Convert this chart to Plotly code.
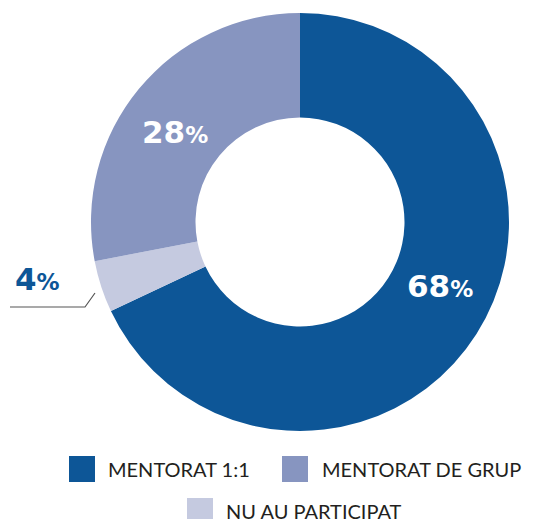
import math
import plotly.graph_objects as go

W, H = 533, 519

labels = ["MENTORAT 1:1", "NU AU PARTICIPAT", "MENTORAT DE GRUP"]
values = [68, 4, 28]
colors = ["#0D5697", "#C5CAE0", "#8795C0"]

# legend order as in the picture
legend_order = [0, 2, 1]

CX, CY, R_OUT = 300, 222, 209
NUM_FONT = "DejaVu Sans"

def px(x, y):
    return x / W, 1 - y / H

def pct_text(v):
    return "<b>%d</b><span style='font-size:23px'><b>%%</b></span>" % v

fig = go.Figure()
fig.add_trace(go.Pie(
    labels=labels, values=values,
    marker=dict(colors=colors, line=dict(width=0)),
    hole=0.5, sort=False, direction="clockwise", rotation=0,
    textinfo="none",
    hoverinfo="skip",
    showlegend=False,
    domain=dict(x=[(CX - R_OUT) / W, (CX + R_OUT) / W],
                y=[1 - (CY + R_OUT) / H, 1 - (CY - R_OUT) / H]),
))

# slice labels: inside ones placed at the ring's mid radius
total = sum(values)
shift = [-8, 0, -4]
start = 0
for i, v in enumerate(values):
    mid = (start + v / 2) / total * 360 + shift[i]
    start += v
    if v < 10:
        continue
    r = 154
    x = CX + r * math.sin(math.radians(mid))
    y = CY - r * math.cos(math.radians(mid))
    ax, ay = px(x, y)
    fig.add_annotation(x=ax, y=ay, xref="paper", yref="paper", showarrow=False,
                       xanchor="center", yanchor="middle",
                       text=pct_text(v),
                       font=dict(family=NUM_FONT, size=31, color="white"))

# small slice label outside, with leader line
x0, y0 = px(37, 279)
fig.add_annotation(x=x0, y=y0, xref="paper", yref="paper", showarrow=False,
                   xanchor="center", yanchor="middle",
                   text=pct_text(values[1]),
                   font=dict(family=NUM_FONT, size=31, color=colors[0]))
fig.add_shape(type="path", xref="paper", yref="paper",
              path="M %f %f L %f %f L %f %f" % (px(10, 307) + px(85, 307) + px(95, 293)),
              line=dict(color="#555555", width=1.2))

# legend drawn by hand
rows = [(469, [(69, 106), (282, 320)]), (511, [(187, 224)])]
k = 0
for yc, items in rows:
    for sx, tx in items:
        i = legend_order[k]
        k += 1
        a = px(sx, yc - 13)
        b = px(sx + 26, yc + 13)
        fig.add_shape(type="rect", xref="paper", yref="paper",
                      x0=a[0], y0=b[1], x1=b[0], y1=a[1],
                      fillcolor=colors[i], line=dict(width=0))
        t = px(tx, yc)
        fig.add_annotation(x=t[0], y=t[1], xref="paper", yref="paper",
                           xanchor="left", yanchor="middle", showarrow=False,
                           text=labels[i],
                           font=dict(family="Lato", size=20, color="#231F20"))

fig.update_layout(width=W, height=H, margin=dict(l=0, r=0, t=0, b=0),
                  paper_bgcolor="white", plot_bgcolor="white")
fig.write_html("out.html", config={"displayModeBar": False},
               post_script="document.body.style.margin='0';")
